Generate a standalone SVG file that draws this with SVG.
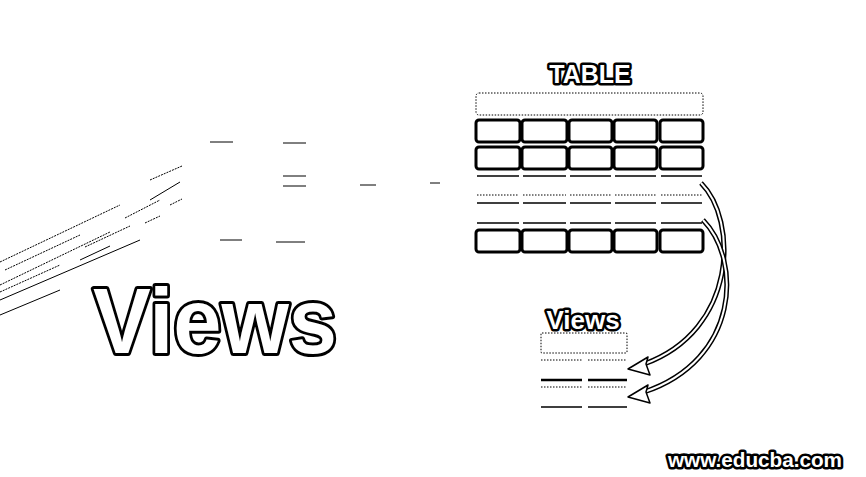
<svg xmlns="http://www.w3.org/2000/svg" width="866" height="477" viewBox="0 0 866 477">
<style>
.cell{fill:#fff;stroke:#000;stroke-width:3}
.hdr{fill:none;stroke:#000;stroke-width:1;stroke-dasharray:1.5 1.5}
.ln{stroke:#000;stroke-width:1.5}
.dot{stroke:#000;stroke-width:1;stroke-dasharray:1.5 1.5}
.thick{stroke:#000;stroke-width:2.5}
.title{font-family:"Liberation Sans",Arial,sans-serif;font-weight:bold;fill:#fff;stroke:#000;paint-order:stroke;stroke-linejoin:round}
.bg{stroke:#000;stroke-width:1;fill:none}
.arrO{fill:none;stroke:#000;stroke-width:5}
.arrI{fill:none;stroke:#fff;stroke-width:2}
.head{fill:#fff;stroke:#000;stroke-width:1.5;stroke-linejoin:round}
</style>
<rect width="866" height="477" fill="#fff"/>
<g id="background">
<path class="bg" d="M0,262 L120,205 M5,270 L80,235 M0,285 L110,232 M0,292 L60,265 M85,247 L130,226 M150,180 L182,166 M170,205 L182,199 M145,223 L160,216 M125,218 L160,200" stroke-dasharray="2 1"/>
<path class="bg" d="M0,300 L140,240 M0,315 L60,290 M80,260 L110,246 M210,142 L233,142 M283,143 L306,143 M283,176 L306,176 M283,186 L306,186 M360,185 L376,185 M430,183 L440,183 M220,240 L242,240 M276,242 L305,242 M150,200 L180,182"/>
</g>
<g id="views-title">
<text class="title" x="215" y="353" font-size="93" text-anchor="middle" stroke-width="6" textLength="244" lengthAdjust="spacingAndGlyphs">Views</text>
</g>
<g id="table">
<text class="title" x="590" y="83" font-size="25" text-anchor="middle" stroke-width="5">TABLE</text>
<rect class="hdr" x="476" y="93" width="227" height="22" rx="3"/>
<g id="row1">
<rect class="cell" x="476" y="120" width="44" height="22" rx="3"/>
<rect class="cell" x="522" y="120" width="45" height="22" rx="3"/>
<rect class="cell" x="569" y="120" width="43" height="22" rx="3"/>
<rect class="cell" x="614" y="120" width="43" height="22" rx="3"/>
<rect class="cell" x="660" y="120" width="43" height="22" rx="3"/>
</g>
<g id="row2">
<rect class="cell" x="476" y="147" width="44" height="22" rx="3"/>
<rect class="cell" x="522" y="147" width="45" height="22" rx="3"/>
<rect class="cell" x="569" y="147" width="43" height="22" rx="3"/>
<rect class="cell" x="614" y="147" width="43" height="22" rx="3"/>
<rect class="cell" x="660" y="147" width="43" height="22" rx="3"/>
</g>
<g id="lines">
<path class="ln" d="M477,176H519 M523,176H566 M570,176H611 M615,176H656 M661,176H702"/>
<path class="dot" d="M477,195H519 M523,195H566 M570,195H611 M615,195H656 M661,195H702"/>
<path class="ln" d="M477,203H519 M523,203H566 M570,203H611 M615,203H656 M661,203H702"/>
<path class="ln" d="M477,223H519 M523,223H566 M570,223H611 M615,223H656 M661,223H702"/>
</g>
<g id="row3">
<rect class="cell" x="476" y="230" width="44" height="22" rx="3"/>
<rect class="cell" x="522" y="230" width="45" height="22" rx="3"/>
<rect class="cell" x="569" y="230" width="43" height="22" rx="3"/>
<rect class="cell" x="614" y="230" width="43" height="22" rx="3"/>
<rect class="cell" x="660" y="230" width="43" height="22" rx="3"/>
</g>
</g>
<g id="views-table">
<text class="title" x="583" y="329" font-size="26" text-anchor="middle" stroke-width="5">Views</text>
<rect class="hdr" x="541" y="333" width="86" height="20" rx="1"/>
<path class="dot" d="M541,360H582 M588,360H627"/>
<path class="thick" d="M541,380H582 M588,380H627"/>
<path class="dot" d="M541,387H582 M588,387H627"/>
<path class="ln" d="M541,407H582 M588,407H627"/>
</g>
<g id="connectors">
<path class="arrO" d="M701,183 C738,220 738,330 644,364"/>
<path class="arrI" d="M701,183 C738,220 738,330 644,364"/>
<polygon class="head" points="628,369 648,357 646,364 650,375"/>
<path class="arrO" d="M703,220 C742,260 740,360 644,392"/>
<path class="arrI" d="M703,220 C742,260 740,360 644,392"/>
<polygon class="head" points="628,397 648,385 646,392 650,403"/>
</g>
<g id="watermark">
<text class="title" x="755" y="467" font-size="20" text-anchor="middle" stroke-width="5" textLength="174" lengthAdjust="spacingAndGlyphs">www.educba.com</text>
</g>
</svg>
